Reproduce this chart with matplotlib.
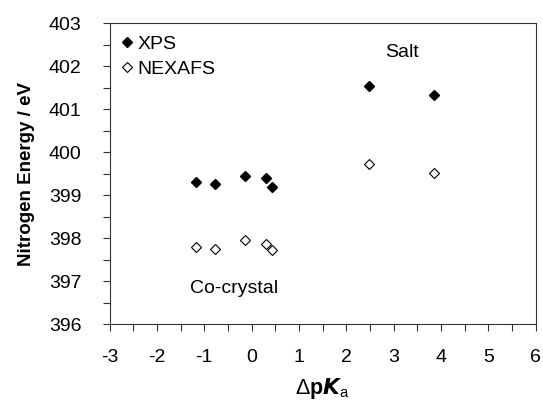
import matplotlib
matplotlib.use("Agg")
import matplotlib.pyplot as plt
from matplotlib.ticker import MultipleLocator

plt.rcParams['font.family'] = ['Liberation Sans', 'DejaVu Sans']
plt.rcParams['axes.unicode_minus'] = False
plt.rcParams['mathtext.fontset'] = 'custom'
plt.rcParams['mathtext.rm'] = 'Liberation Sans'
plt.rcParams['mathtext.bf'] = 'Liberation Sans:bold'
plt.rcParams['mathtext.it'] = 'Liberation Sans:italic'

# --- data ---
dpka = [-1.18, -0.77, -0.15, 0.30, 0.43, 2.48, 3.86]
xps_energy = [399.30, 399.27, 399.45, 399.39, 399.18, 401.53, 401.32]
nexafs_energy = [397.79, 397.75, 397.96, 397.86, 397.72, 399.73, 399.52]

fig = plt.figure(figsize=(5.43, 4.01), dpi=100)
ax = fig.add_axes([0.2017, 0.192, 0.785, 0.750])

ax.plot(dpka, xps_energy, linestyle='none', marker='D', ms=5.3,
        mfc='black', mec='black', label='XPS')
ax.plot(dpka, nexafs_energy, linestyle='none', marker='D', ms=4.8,
        mfc='white', mec='black', mew=0.8, label='NEXAFS')

ax.set_xlim(-3, 6)
ax.set_ylim(396, 403)
ax.xaxis.set_major_locator(MultipleLocator(1))
ax.xaxis.set_minor_locator(MultipleLocator(0.5))
ax.yaxis.set_major_locator(MultipleLocator(1))
ax.yaxis.set_minor_locator(MultipleLocator(0.5))
ax.tick_params(which='both', direction='out', length=5, width=0.8,
               labelsize=14, color='#333333')
ax.tick_params(axis='x', which='major', pad=13)
ax.tick_params(axis='y', which='major', pad=15)
for sp in ax.spines.values():
    sp.set_linewidth(0.8)
    sp.set_color('#333333')

ax.set_ylabel('Nitrogen Energy / eV', fontsize=13.5, fontweight='bold', labelpad=10)
ax.set_xlabel(r'$\Delta\mathbf{p}\boldsymbol{K}_{\mathrm{a}}$', fontsize=15.5, labelpad=7)

ax.text(3.17, 402.32, 'Salt', fontsize=14, ha='center', va='center')
ax.text(-0.38, 396.83, 'Co-crystal', fontsize=14, ha='center', va='center')

ax.legend(loc='upper left', frameon=False, fontsize=14, handlelength=0.6,
          handletextpad=0.25, labelspacing=0.4, borderaxespad=0.3,
          borderpad=0.3)

fig.savefig('out.png', dpi=100)
